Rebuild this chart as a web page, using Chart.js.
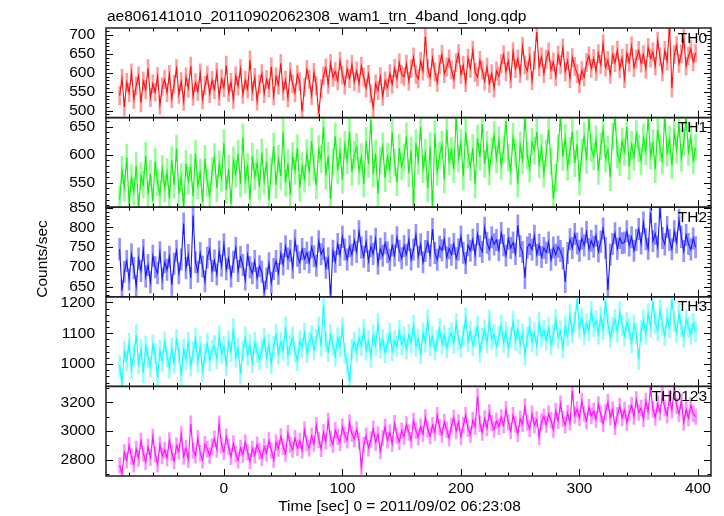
<!DOCTYPE html>
<html lang="en">
<head>
<meta charset="UTF-8">
<title>ae806141010 WAM light curve</title>
<script src="https://cdn.jsdelivr.net/npm/chart.js"></script>
<style>
  body { margin: 0; background: #fff; }
  #wrap { position: relative; width: 724px; height: 516px; }
  #wrap canvas { position: absolute; left: 0; top: 0; }
</style>
</head>
<body>
<div id="wrap">
  <canvas id="c0" width="724" height="516"></canvas>
  <canvas id="c1" width="724" height="516"></canvas>
  <canvas id="c2" width="724" height="516"></canvas>
  <canvas id="c3" width="724" height="516"></canvas>
  <canvas id="c4" width="724" height="516"></canvas>
</div>
<script>
// time bins (sec from 2011/09/02 06:23:08)
const binStart = -88;
const binSize = 2;

// count rates (counts/sec)
const th0Rate = [
  540, 585, 510, 575, 548, 600, 530, 566, 592, 521, 578, 556, 612, 535, 571, 549, 590, 515, 563, 582,
  548, 596, 532, 570, 611, 543, 577, 525, 589, 560, 618, 538, 574, 551, 600, 529, 567, 593, 545, 580,
  556, 602, 537, 584, 561, 620, 548, 575, 530, 592, 566, 611, 543, 580, 557, 634, 551, 588, 526, 571,
  598, 545, 583, 560, 616, 539, 590, 568, 625, 552, 581, 534, 603, 571, 547, 595, 577, 498, 562, 609,
  583, 540, 601, 566, 492, 558, 592, 613, 570, 625, 588, 603, 579, 631, 594, 568, 610, 585, 622, 577,
  605, 572, 618, 589, 560, 596, 545, 508, 571, 553, 590, 538, 579, 561, 598, 570, 612, 584, 627, 596,
  590, 623, 578, 611, 642, 596, 584, 630, 605, 695, 612, 588, 640, 603, 575, 622, 649, 598, 615, 637,
  608, 583, 627, 651, 596, 620, 574, 639, 612, 660, 601, 589, 633, 607, 578, 615, 572, 598, 560, 605,
  591, 624, 648, 603, 632, 584, 656, 611, 637, 598, 670, 621, 605, 644, 579, 633, 708, 616, 642, 598,
  636, 655, 608, 629, 590, 647, 621, 666, 603, 632, 585, 640, 617, 598, 572, 606, 589, 627, 645, 612,
  638, 604, 651, 622, 677, 615, 633, 596, 648, 627, 660, 611, 639, 585, 652, 628, 671, 614, 637, 659,
  626, 648, 610, 667, 639, 655, 618, 684, 642, 603, 659, 631, 725, 560, 648, 672, 625, 651, 690, 618,
  644, 663, 629, 652
];
const th1Rate = [
  520, 573, 541, 595, 512, 558, 534, 580, 505, 562, 547, 598, 529, 566, 517, 588, 551, 530, 575, 540,
  569, 522, 590, 546, 611, 531, 560, 508, 584, 553, 577, 526, 602, 545, 568, 515, 593, 550, 528, 571,
  596, 540, 583, 559, 621, 537, 575, 512, 590, 566, 602, 548, 631, 555, 579, 520, 597, 561, 585, 543,
  604, 553, 588, 519, 572, 615, 546, 593, 562, 640, 550, 585, 528, 598, 571, 612, 541, 580, 557, 603,
  568, 624, 577, 545, 610, 592, 650, 563, 598, 521, 587, 633, 572, 606, 555, 618, 590, 641, 569, 600,
  614, 571, 596, 548, 625, 583, 662, 566, 602, 530, 589, 615, 558, 597, 574, 640, 586, 551, 612, 579,
  595, 633, 567, 608, 510, 621, 589, 650, 574, 603, 540, 615, 506, 637, 570, 599, 618, 556, 644, 588,
  607, 574, 668, 593, 622, 561, 640, 601, 578, 612, 547, 629, 596, 655, 583, 618, 570, 606, 635, 592,
  626, 580, 609, 660, 595, 571, 632, 604, 548, 617, 590, 668, 598, 575, 623, 607, 641, 583, 612, 566,
  603, 645, 588, 522, 559, 611, 668, 596, 630, 578, 607, 641, 585, 619, 552, 604, 633, 590, 668, 612,
  597, 628, 571, 615, 646, 593, 609, 560, 632, 668, 601, 587, 624, 605, 650, 579, 618, 596, 637, 611,
  589, 630, 606, 668, 598, 621, 574, 645, 612, 590, 668, 603, 627, 581, 640, 609, 656, 594, 622, 668,
  605, 631, 590, 612
];
const th2Rate = [
  745, 640, 688, 715, 668, 732, 697, 652, 721, 690, 743, 676, 705, 661, 728, 699, 684, 737, 670, 712,
  693, 726, 655, 708, 741, 684, 719, 810, 697, 730, 672, 830, 712, 688, 735, 701, 664, 724, 745, 690,
  716, 681, 739, 703, 757, 694, 722, 676, 713, 748, 690, 725, 705, 668, 731, 699, 684, 715, 672, 702,
  688, 637, 671, 709, 660, 695, 715, 683, 734, 706, 752, 721, 741, 698, 767, 728, 711, 745, 720, 736,
  712, 750, 727, 703, 765, 732, 745, 698, 722, 628, 741, 713, 758, 730, 776, 744, 719, 752, 731, 767,
  738, 790, 749, 726, 764, 715, 752, 733, 771, 708, 746, 728, 760, 737, 718, 754, 729, 775, 741, 722,
  753, 731, 768, 719, 744, 781, 726, 757, 712, 740, 763, 728, 796, 735, 718, 751, 742, 770, 724, 747,
  731, 758, 722, 744, 777, 736, 710, 755, 741, 769, 730, 783, 752, 738, 799, 761, 744, 775, 757, 768,
  742, 786, 755, 729, 771, 748, 762, 733, 805, 752, 738, 672, 749, 758, 744, 779, 731, 756, 725, 748,
  736, 762, 718, 749, 731, 751, 740, 722, 662, 735, 770, 748, 783, 759, 741, 772, 754, 788, 745, 766,
  751, 779, 739, 764, 797, 748, 642, 731, 758, 785, 746, 773, 760, 762, 790, 754, 775, 741, 768, 796,
  759, 812, 770, 746, 838, 765, 784, 751, 850, 773, 757, 801, 768, 745, 790, 762, 819, 776, 740, 781,
  758, 744, 772, 750
];
const th3Rate = [
  995, 938, 1040, 1012, 1068, 985, 1030, 1095, 1001, 1047, 972, 1058, 1021, 990, 1063, 1034, 955, 1044, 1010, 1072,
  1025, 988, 1051, 1003, 1079, 1036, 962, 1048, 1015, 1070, 994, 1039, 1083, 1007, 1056, 978, 1031, 1066, 1012, 1045,
  1060, 1018, 1092, 1034, 1057, 996, 1074, 1040, 1115, 1023, 1051, 968, 1043, 1087, 1029, 1062, 1005, 1070, 1038, 1016,
  1049, 1083, 1021, 1064, 1002, 1058, 1096, 1033, 1071, 1045, 1120, 1028, 1062, 1087, 1040, 1012, 1075, 1053, 1101, 1038,
  1069, 1092, 1047, 1080, 1120, 1058, 1190, 1073, 1041, 1096, 1062, 1027, 1084, 1056, 1118, 1035, 1003, 942, 1048, 1071,
  1039, 1085, 1060, 1112, 1046, 1075, 1023, 1094, 1061, 1130, 1052, 1080, 1037, 1068, 1099, 1044, 1076, 1058, 1108, 1063,
  1087, 1049, 1096, 1070, 1125, 1058, 1081, 1034, 1100, 1072, 1143, 1060, 1089, 1047, 1077, 1115, 1066, 1093, 1052, 1085,
  1101, 1068, 1132, 1079, 1055, 1094, 1150, 1073, 1107, 1061, 1088, 1123, 1040, 1084, 1111, 1069, 1142, 1082, 1097, 1058,
  1090, 1126, 1071, 1104, 1053, 1086, 1139, 1077, 1112, 1065, 1098, 1031, 1087, 1120, 1074, 1101, 1060, 1135, 1089, 1110,
  1078, 1117, 1063, 1096, 1145, 1085, 1108, 1052, 1123, 1092, 1160, 1101, 1137, 1210, 1118, 1150, 1096, 1132, 1109, 1171,
  1123, 1140, 1098, 1154, 1112, 1205, 1131, 1087, 1119, 1146, 1103, 1168, 1125, 1091, 1136, 1114, 1070, 1128, 1099, 1015,
  1108, 1142, 1097, 1163, 1121, 1205, 1134, 1110, 1176, 1127, 1093, 1150, 1118, 1210, 1139, 1102, 1165, 1122, 1088, 1144,
  1120, 1097, 1131, 1106
];
const th0123Rate = [
  2760, 2705, 2850, 2795, 2900, 2820, 2768, 2875, 2810, 2930, 2842, 2786, 2890, 2815, 2960, 2838, 2770, 2905, 2826, 2868,
  2812, 2934, 2848, 2790, 2897, 2856, 2975, 2822, 2880, 2801, 3050, 2863, 2830, 2950, 2845, 2795, 2908, 2872, 2828, 2890,
  2946, 2870, 3050, 2902, 2855, 2960, 2888, 2820, 2913, 2840, 2795, 2882, 2835, 2920, 2851, 2790, 2875, 2830, 2905, 2858,
  2812, 2890, 2845, 2935, 2866, 2800, 2920, 2878, 2962, 2890, 2843, 2985, 2905, 2870, 2950, 2882, 2930, 2866, 3010, 2915,
  2880, 2965, 2912, 3040, 2938, 2875, 2990, 2926, 3070, 2948, 2905, 3005, 2960, 2918, 3030, 2972, 2935, 3060, 2980, 2945,
  3010, 2930, 2752, 2900, 2965, 2880, 2940, 3015, 2920, 2975, 2860, 2950, 3030, 2935, 2990, 2912, 3055, 2968, 2925, 3002,
  2960, 3045, 2990, 2935, 3070, 3002, 2958, 3030, 2980, 3095, 3012, 2965, 3040, 2990, 3110, 3025, 2975, 3062, 3008, 2950,
  3035, 3090, 3000, 3060, 2960, 3040, 3110, 3015, 2975, 3075, 3030, 3240, 3050, 2990, 3085, 3020, 3130, 3055, 3010, 3070,
  3030, 3095, 3040, 3150, 3060, 3000, 3110, 3045, 2980, 3085, 3050, 3170, 3060, 3015, 3120, 3040, 3080, 2960, 3065, 3100,
  3045, 3120, 3075, 3010, 3140, 3070, 3190, 3085, 3040, 3125, 3060, 3280, 3110, 3150, 3090, 3210, 3120, 3070, 3165, 3105,
  3140, 3080, 3185, 3115, 3050, 3130, 3200, 3095, 3150, 3030, 3110, 3175, 3090, 3145, 3060, 3125, 3180, 3100, 3220, 3130,
  3160, 3085, 3210, 3135, 3300, 3150, 3095, 3190, 3130, 3250, 3160, 3110, 3230, 3145, 3300, 3175, 3120, 3205, 3060, 3150,
  3090, 3180, 3120, 3100
];

const bandNames = ['TH0', 'TH1', 'TH2', 'TH3', 'TH0123'];
const bandRates = [th0Rate, th1Rate, th2Rate, th3Rate, th0123Rate];
const rateErr = [24, 24, 27, 33, 55];          // 1-sigma error bar per band

// axis ranges and tick labels
const yLow = [481.8, 506.3, 624.5, 927.6, 2686];
const yHigh = [718.5, 666.3, 851, 1218.5, 3311];
const yTickLabels = [
  [500, 550, 600, 650, 700],
  [550, 600, 650],
  [650, 700, 750, 800, 850],
  [1000, 1100, 1200],
  [2800, 3000, 3200]
];
const yMajor = [50, 50, 50, 100, 200];
const yMinor = [10, 10, 10, 20, 100];
const xLow = -99.5, xHigh = 411;
const xTickLabels = [0, 100, 200, 300, 400];
const xMajor = 100, xMinor = 20;

const lineColors = ['#ff1010', '#10f010', '#1818ff', '#10ffff', '#ff10ff'];
const errColors = ['rgba(255,60,60,0.5)', 'rgba(40,255,40,0.5)', 'rgba(40,40,255,0.5)', 'rgba(40,255,255,0.5)', 'rgba(255,40,255,0.5)'];

const FONT = '"Liberation Sans", Arial, sans-serif';
const panelTop = 28, panelH = 89.6, pageW = 724, pageH = 516;

// frame, inward ticks and band label for every panel
const framePlugin = {
  id: 'frame',
  afterDraw(chart, args, opts) {
    const {ctx, chartArea: a, scales: {x, y}} = chart;
    ctx.save();
    ctx.strokeStyle = '#000';
    ctx.lineWidth = 1;
    ctx.beginPath();
    for (let v = Math.ceil(xLow / xMinor) * xMinor; v <= xHigh; v += xMinor) {
      const px = Math.round(x.getPixelForValue(v)) + 0.5;
      const len = v % xMajor === 0 ? 7 : 3.5;
      ctx.moveTo(px, a.top); ctx.lineTo(px, a.top + len);
      ctx.moveTo(px, a.bottom); ctx.lineTo(px, a.bottom - len);
    }
    for (let v = Math.ceil(y.min / opts.minor) * opts.minor; v <= y.max; v += opts.minor) {
      const py = Math.round(y.getPixelForValue(v)) + 0.5;
      const len = v % opts.major === 0 ? 7 : 3.5;
      ctx.moveTo(a.left, py); ctx.lineTo(a.left + len, py);
      ctx.moveTo(a.right, py); ctx.lineTo(a.right - len, py);
    }
    ctx.stroke();
    ctx.strokeStyle = '#222';
    ctx.lineWidth = 1.5;
    ctx.strokeRect(a.left, a.top, a.right - a.left, a.bottom - a.top);
    ctx.fillStyle = '#000';
    ctx.font = '15.5px ' + FONT;
    ctx.textAlign = 'right';
    ctx.textBaseline = 'alphabetic';
    ctx.fillText(opts.label, a.right - 4, a.top + 14.5);
    ctx.restore();
  }
};

// page titles
const pageText = {
  id: 'pageText',
  afterDraw(chart) {
    const ctx = chart.ctx;
    ctx.save();
    ctx.fillStyle = '#000';
    ctx.font = '15.5px ' + FONT;
    ctx.textBaseline = 'alphabetic';
    ctx.textAlign = 'left';
    ctx.fillText('ae806141010_20110902062308_wam1_trn_4band_long.qdp', 107, 20.5);
    ctx.textAlign = 'center';
    ctx.fillText('Time [sec] 0 = 2011/09/02 06:23:08', 399.5, 510.5);
    ctx.translate(43, 259);
    ctx.rotate(-Math.PI / 2);
    ctx.textBaseline = 'middle';
    ctx.fillText('Counts/sec', 0, 0);
    ctx.restore();
  }
};

bandRates.forEach((rates, b) => {
  const times = rates.map((_, i) => binStart + i * binSize);
  const top = panelTop + b * panelH;
  const bottom = top + panelH;
  const last = b === bandRates.length - 1;
  const xScale = {
    type: 'linear',
    min: xLow,
    max: xHigh,
    offset: false,
    display: last,
    grid: {display: false, drawTicks: false, offset: false},
    border: {display: false},
    ticks: {color: '#000', font: {family: FONT, size: 15.5}, padding: 3, maxRotation: 0, callback: v => String(v)},
    afterBuildTicks(s) { s.ticks = xTickLabels.map(v => ({value: v})); }
  };
  if (last) xScale.afterFit = s => { s.height = pageH - bottom; };
  new Chart(document.getElementById('c' + b), {
    type: 'line',
    data: {
      datasets: [
        {
          type: 'line',
          data: rates.map((v, i) => ({x: times[i], y: v})),
          borderColor: lineColors[b],
          borderWidth: 1.1,
          pointRadius: 0,
          tension: 0,
          order: 0
        },
        {
          type: 'bar',
          data: rates.map((v, i) => ({x: times[i], y: [v - rateErr[b], v + rateErr[b]]})),
          backgroundColor: errColors[b],
          borderWidth: 0,
          barThickness: 2,
          grouped: false,
          order: 1
        }
      ]
    },
    options: {
      responsive: false,
      animation: false,
      events: [],
      layout: {padding: {top: top, bottom: last ? 0 : pageH - bottom, left: 0, right: pageW - 711}},
      plugins: {
        legend: {display: false},
        tooltip: {enabled: false},
        frame: {label: bandNames[b], major: yMajor[b], minor: yMinor[b]}
      },
      scales: {
        x: xScale,
        y: {
          min: yLow[b],
          max: yHigh[b],
          beginAtZero: false,
          grid: {display: false, drawTicks: false},
          border: {display: false},
          ticks: {color: '#000', font: {family: FONT, size: 15.5}, padding: 11, callback: v => String(v)},
          afterBuildTicks(s) { s.ticks = yTickLabels[b].map(v => ({value: v})); },
          afterFit(s) { s.width = 106; }
        }
      }
    },
    plugins: last ? [framePlugin, pageText] : [framePlugin]
  });
});
</script>
</body>
</html>
